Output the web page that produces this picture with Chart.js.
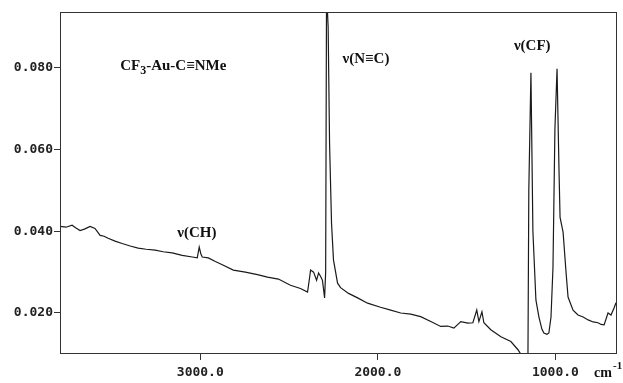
<!DOCTYPE html>
<html>
<head>
<meta charset="utf-8">
<script src="https://cdn.jsdelivr.net/npm/chart.js@4"></script>
<style>
  html, body { margin: 0; padding: 0; background: #fff; }
</style>
</head>
<body>
<canvas id="irChart" width="623" height="383"></canvas>
<script>
// wavenumbers (cm-1), left to right
const wavenumbers = [
  3790, 3756, 3722, 3700, 3677, 3649, 3621, 3593, 3564, 3542,
  3519, 3480, 3440, 3395, 3350, 3305, 3254, 3209, 3158, 3102,
  3045, 3017, 3006, 2997, 2989, 2955, 2915, 2876, 2814, 2746,
  2678, 2622, 2560, 2492, 2436, 2396, 2385, 2379, 2362, 2345,
  2334, 2323, 2312, 2300, 2294, 2289, 2280, 2272, 2261, 2250,
  2227, 2210, 2165, 2114, 2058, 1985, 1928, 1871, 1815, 1759,
  1702, 1646, 1606, 1572, 1533, 1493, 1465, 1443, 1431, 1414,
  1403, 1364, 1307, 1251, 1211, 1189, 1172, 1155, 1150, 1138,
  1127, 1110, 1093, 1076, 1065, 1048, 1037, 1025, 1014, 1003,
  991, 980, 974, 957, 940, 929, 901, 873, 844, 816,
  788, 760, 743, 726, 704, 687, 670, 659
];
const absorbance = [
  0.0412, 0.0410, 0.0415, 0.0408, 0.0402, 0.0406, 0.0412, 0.0407, 0.0390, 0.0388,
  0.0383, 0.0376, 0.0370, 0.0364, 0.0359, 0.0356, 0.0354, 0.0350, 0.0347, 0.0341,
  0.0337, 0.0335, 0.0361, 0.0345, 0.0337, 0.0335, 0.0326, 0.0318, 0.0305, 0.0300,
  0.0294, 0.0288, 0.0283, 0.0268, 0.0260, 0.0251, 0.0285, 0.0305, 0.0300, 0.0280,
  0.0298, 0.0290, 0.0280, 0.0237, 0.0300, 0.0990, 0.0900, 0.0615, 0.0420, 0.0330,
  0.0273, 0.0262, 0.0248, 0.0237, 0.0224, 0.0214, 0.0207, 0.0200, 0.0197, 0.0191,
  0.0179, 0.0167, 0.0168, 0.0163, 0.0179, 0.0175, 0.0176, 0.0207, 0.0179, 0.0203,
  0.0176, 0.0159, 0.0142, 0.0130, 0.0110, 0.0095, 0.0080, 0.0080, 0.0500, 0.0788,
  0.0400, 0.0232, 0.0190, 0.0160, 0.0151, 0.0148, 0.0151, 0.0190, 0.0310, 0.0650,
  0.0798, 0.0550, 0.0434, 0.0398, 0.0298, 0.0239, 0.0207, 0.0195, 0.0190, 0.0183,
  0.0178, 0.0176, 0.0172, 0.0171, 0.0200, 0.0195, 0.0212, 0.0225
];
const xTicks = [3000, 2000, 1000];
const yTicks = [0.020, 0.040, 0.060, 0.080];

// band labels: [text, wavenumber at left edge, absorbance at baseline]
const bandLabels = [
  ['\u03bd(CH)', 3130, 0.0385],
  ['\u03bd(N\u2261C)', 2199, 0.0813],
  ['\u03bd(CF)', 1234, 0.0844]
];
const compound = { pre: 'CF', sub: '3', post: '-Au-C\u2261NMe', x: 3451, y: 0.0795 };

const tickFont = { family: 'DejaVu Sans Mono', size: 13, weight: 'bold' };
const serif = 'bold 15px "Liberation Serif", "DejaVu Serif", serif';

const textPlugin = {
  id: 'texts',
  afterDraw(chart) {
    const ctx = chart.ctx;
    const xs = chart.scales.x, ys = chart.scales.y;
    const area = chart.chartArea;
    ctx.save();
    // frame
    ctx.strokeStyle = '#333';
    ctx.lineWidth = 1;
    ctx.strokeRect(area.left + 0.5, area.top + 0.5, area.right - area.left, area.bottom - area.top);

    ctx.fillStyle = '#111';
    ctx.textBaseline = 'alphabetic';
    ctx.textAlign = 'left';
    ctx.font = serif;
    bandLabels.forEach(([t, wn, a]) => {
      ctx.fillText(t, xs.getPixelForValue(wn), ys.getPixelForValue(a));
    });

    // compound name with subscript 3
    let px = xs.getPixelForValue(compound.x);
    const py = ys.getPixelForValue(compound.y);
    ctx.fillText(compound.pre, px, py);
    px += ctx.measureText(compound.pre).width;
    ctx.font = 'bold 12px "Liberation Serif", serif';
    ctx.fillText(compound.sub, px, py + 4);
    px += ctx.measureText(compound.sub).width;
    ctx.font = serif;
    ctx.fillText(compound.post, px, py);

    // unit label
    ctx.font = 'bold 14px "Liberation Serif", serif';
    ctx.fillText('cm', area.right - 22, chart.height - 6);
    ctx.font = 'bold 11px "Liberation Serif", serif';
    ctx.fillText('-1', area.right - 3, chart.height - 14);
    ctx.restore();
  }
};

new Chart(document.getElementById('irChart'), {
  type: 'line',
  data: {
    datasets: [{
      data: wavenumbers.map((w, i) => ({ x: w, y: absorbance[i] })),
      borderColor: '#1a1a1a',
      borderWidth: 1.2,
      pointRadius: 0,
      tension: 0,
      fill: false
    }]
  },
  options: {
    responsive: false,
    animation: false,
    devicePixelRatio: 1,
    layout: { padding: { top: 12, right: 7, left: 0, bottom: 0 } },
    plugins: { legend: { display: false }, tooltip: { enabled: false } },
    scales: {
      x: {
        type: 'linear',
        reverse: true,
        min: 659,
        max: 3790,
        afterBuildTicks: (s) => { s.ticks = xTicks.map(v => ({ value: v })); },
        afterFit: (s) => { s.height = 30; },
        grid: { drawOnChartArea: false, tickLength: 7, color: '#333' },
        border: { color: '#333' },
        ticks: {
          color: '#222',
          font: tickFont,
          padding: 5,
          maxRotation: 0,
          callback: (v) => v.toFixed(1)
        }
      },
      y: {
        min: 0.0102,
        max: 0.0937,
        afterBuildTicks: (s) => { s.ticks = yTicks.map(v => ({ value: v })); },
        afterFit: (s) => { s.width = 60; },
        grid: { drawOnChartArea: false, tickLength: 6, color: '#333' },
        border: { color: '#333' },
        ticks: {
          color: '#222',
          font: tickFont,
          padding: 1,
          callback: (v) => v.toFixed(3)
        }
      }
    }
  },
  plugins: [textPlugin]
});
</script>
</body>
</html>
